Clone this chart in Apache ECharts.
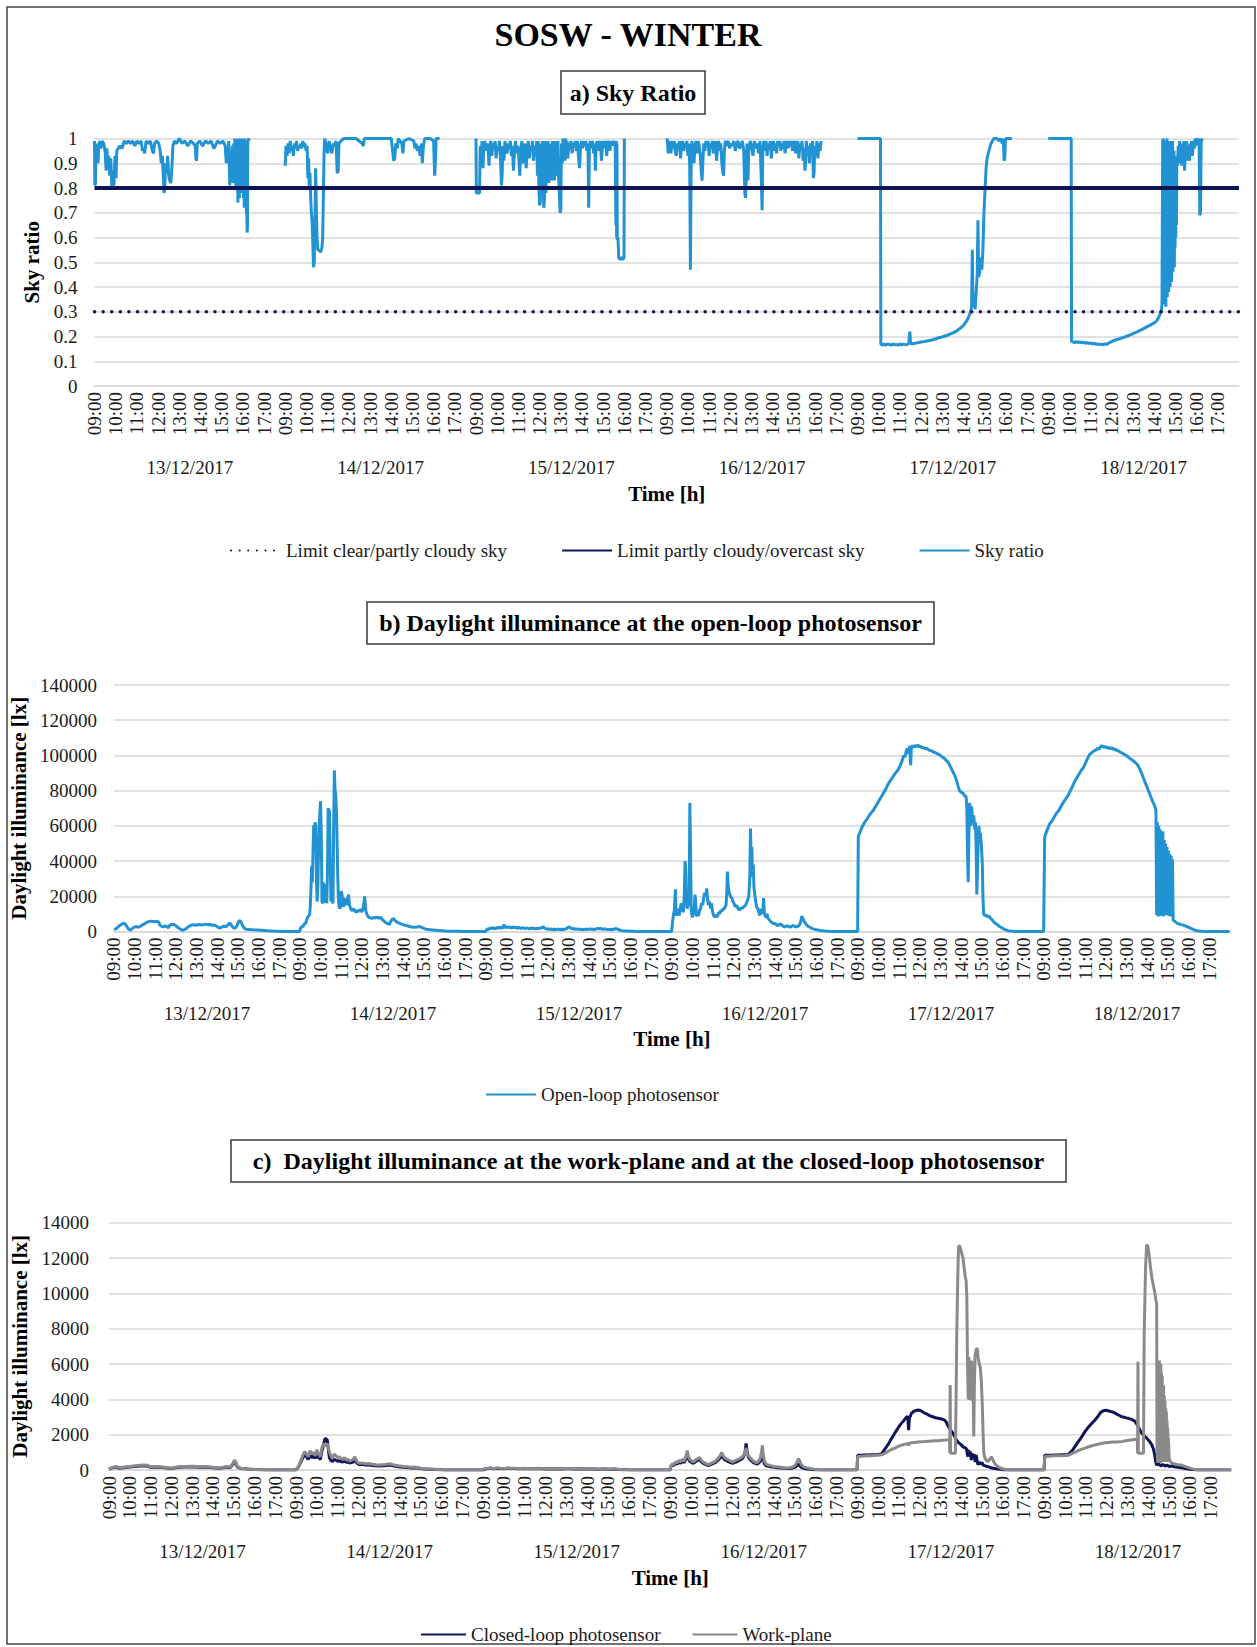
<!DOCTYPE html>
<html>
<head>
<meta charset="utf-8">
<title>SOSW - WINTER</title>
<script src="https://cdn.jsdelivr.net/npm/echarts@6/dist/echarts.min.js"></script>
<style>
  html, body { margin: 0; padding: 0; background: #ffffff; }
  #chart { width: 1257px; height: 1647px; }
</style>
</head>
<body>
<div id="chart"></div>
<script>
// ---- axis categories ----
const hourLabels = ['09:00', '10:00', '11:00', '12:00', '13:00', '14:00', '15:00', '16:00', '17:00'];
const dayLabels = ['13/12/2017', '14/12/2017', '15/12/2017', '16/12/2017', '17/12/2017', '18/12/2017'];

// ---- sky classification limits ----
const limitClear = 0.3;
const limitOvercast = 0.8;

// ---- sky ratio, one array per day: [minutes after 09:00, ratio] ----
const skyRatio13 = [[0,0.99],[1,0.81],[3,0.82],[4,0.97],[6,0.95],[8,0.98],[10,0.90],[12,0.97],[15,0.99],[18,0.96],[22,0.99],[26,0.98],[30,0.95],[33,0.87],[35,0.96],[38,0.88],[40,0.93],[43,0.85],[46,0.92],[49,0.81],[51,0.80],[53,0.87],[55,0.81],[58,0.93],[61,0.84],[63,0.95],[67,0.96],[72,0.97],[78,0.96],[84,0.99],[90,0.98],[96,0.99],[102,0.98],[108,0.99],[114,0.97],[120,0.99],[126,0.98],[132,0.99],[136,0.95],[139,0.96],[142,0.94],[146,0.99],[152,0.98],[158,0.99],[164,0.95],[167,0.94],[170,0.98],[176,0.99],[182,0.98],[186,0.95],[189,0.90],[192,0.93],[195,0.84],[197,0.78],[199,0.80],[201,0.90],[204,0.86],[207,0.93],[210,0.85],[213,0.83],[216,0.82],[219,0.88],[222,0.97],[226,0.99],[232,0.98],[240,1.0],[248,0.98],[256,0.99],[264,0.97],[272,0.99],[280,0.98],[285,0.97],[287,0.92],[289,0.91],[291,0.98],[298,0.99],[306,0.97],[314,0.99],[322,0.98],[330,0.99],[338,0.96],[342,0.97],[348,0.99],[356,0.98],[364,0.99],[370,0.97],[373,0.90],[375,0.96],[378,0.93],[380,0.99],[383,0.81],[385,0.95],[388,0.85],[390,0.97],[392,0.82],[394,0.98],[396,0.85],[397,1.0],[398,0.82],[399,0.99],[400,0.80],[401,1.0],[402,0.85],[403,0.98],[404,0.79],[405,1.0],[406,0.74],[407,0.99],[408,0.81],[409,1.0],[410,0.76],[411,0.98],[412,0.80],[413,1.0],[414,0.83],[415,0.99],[416,0.78],[417,1.0],[418,0.80],[419,0.97],[420,0.79],[421,1.0],[422,0.76],[423,0.98],[424,0.72],[425,1.0],[426,0.80],[427,0.99],[428,0.75],[429,0.78],[430,0.70],[431,0.73],[432,0.62],[433,0.64],[434,0.99],[436,1.0],[438,0.99]];
const skyRatio14 = [[0,0.89],[2,0.97],[5,0.93],[8,0.98],[11,0.94],[14,0.99],[17,0.95],[20,0.97],[23,0.93],[26,0.98],[29,0.96],[32,0.99],[35,0.95],[38,0.97],[41,0.96],[44,0.98],[47,0.96],[50,0.99],[53,0.97],[56,0.98],[59,0.95],[62,0.97],[64,0.84],[66,0.92],[68,0.80],[70,0.86],[72,0.76],[74,0.70],[76,0.66],[78,0.58],[80,0.48],[82,0.50],[84,0.68],[86,0.88],[88,0.72],[90,0.60],[92,0.55],[96,0.55],[100,0.54],[104,0.56],[106,0.60],[108,0.78],[110,0.95],[112,1.0],[116,0.97],[120,0.94],[124,0.99],[128,0.96],[132,0.94],[136,0.98],[140,0.97],[144,0.99],[147,0.86],[150,0.87],[152,0.98],[158,0.99],[166,1.0],[180,1.0],[200,1.0],[218,0.98],[221,0.97],[224,1.0],[250,1.0],[280,1.0],[300,1.0],[304,0.95],[307,0.91],[310,0.92],[313,0.98],[317,0.96],[320,1.0],[330,0.98],[333,0.94],[336,0.99],[350,1.0],[364,0.99],[367,0.96],[370,0.98],[374,0.95],[378,0.97],[382,0.93],[386,0.98],[388,0.90],[391,0.97],[395,1.0],[410,1.0],[420,0.99],[423,0.85],[425,0.90],[427,1.0],[437,1.0]];
const skyRatio15 = [[0,1.0],[1,0.78],[5,0.78],[10,0.78],[12,0.97],[15,0.93],[17,0.99],[20,0.88],[22,0.97],[25,0.99],[28,0.95],[31,0.98],[34,0.96],[37,0.89],[39,0.97],[42,0.99],[45,0.93],[48,0.98],[51,0.96],[54,0.99],[57,0.92],[60,0.97],[63,0.95],[66,0.99],[69,0.93],[72,0.81],[74,0.85],[76,0.97],[79,0.91],[82,0.99],[85,0.95],[88,0.94],[91,0.98],[94,0.96],[97,0.99],[100,0.93],[103,0.97],[106,0.87],[109,0.95],[112,0.99],[115,0.94],[118,0.97],[121,0.93],[124,0.85],[127,0.96],[130,0.99],[133,0.90],[136,0.94],[139,0.98],[142,0.88],[145,0.96],[148,0.99],[151,0.92],[154,0.97],[157,0.95],[160,0.99],[163,0.91],[166,0.97],[169,0.94],[172,0.99],[174,0.85],[176,0.99],[178,0.80],[180,0.73],[182,0.74],[184,0.98],[186,0.83],[188,0.99],[190,0.80],[192,0.72],[194,0.76],[196,0.99],[198,0.78],[200,0.96],[202,0.84],[204,0.99],[206,0.82],[208,0.98],[210,0.83],[212,0.97],[214,0.83],[216,0.99],[218,0.84],[220,0.96],[222,0.83],[224,0.99],[226,0.85],[228,0.97],[230,0.88],[232,0.99],[234,0.84],[236,0.78],[238,0.70],[240,0.71],[242,0.98],[244,0.90],[246,1.0],[248,0.93],[250,0.98],[252,0.91],[254,1.0],[256,0.95],[258,0.99],[260,0.92],[263,0.98],[266,0.96],[269,0.99],[272,0.94],[275,0.98],[278,0.97],[281,0.99],[284,0.95],[287,0.99],[290,0.93],[293,0.88],[296,0.97],[299,0.99],[302,0.96],[305,0.99],[308,0.97],[311,0.99],[314,0.95],[317,0.98],[319,0.72],[321,0.97],[324,0.99],[327,0.96],[330,0.99],[333,0.94],[336,0.98],[338,0.87],[340,0.97],[343,0.99],[346,0.95],[349,0.98],[352,0.99],[355,0.91],[358,0.97],[361,0.99],[364,0.96],[367,0.99],[370,0.93],[373,0.98],[376,0.99],[379,0.95],[382,0.99],[385,0.97],[388,0.99],[391,0.98],[394,0.99],[396,0.65],[397,0.99],[398,0.60],[399,0.98],[400,0.59],[402,0.60],[404,0.52],[408,0.51],[412,0.52],[416,0.51],[419,0.52],[420,1.0]];
const skyRatio16 = [[0,1.0],[2,0.99],[4,0.94],[6,0.99],[8,0.96],[10,0.98],[12,0.94],[15,0.99],[18,0.96],[21,0.99],[24,0.95],[27,0.93],[30,0.98],[33,0.96],[36,0.99],[39,0.92],[42,0.97],[45,0.99],[48,0.95],[51,0.98],[54,0.96],[57,0.99],[60,0.93],[63,0.98],[65,0.89],[67,0.47],[69,0.88],[71,0.99],[74,0.96],[77,0.90],[80,0.97],[83,0.99],[86,0.94],[89,0.99],[92,0.97],[95,0.93],[98,0.86],[100,0.83],[102,0.90],[105,0.98],[108,0.95],[111,0.99],[114,0.97],[117,0.99],[120,0.93],[123,0.98],[126,0.96],[129,0.99],[132,0.94],[135,0.97],[138,0.99],[141,0.91],[144,0.97],[147,0.99],[150,0.95],[153,0.98],[156,0.90],[159,0.86],[161,0.85],[163,0.95],[166,0.99],[170,0.97],[174,0.99],[178,0.96],[182,0.98],[186,0.97],[190,0.99],[194,0.95],[198,0.98],[202,0.99],[206,0.96],[210,0.97],[214,0.99],[218,0.95],[221,0.78],[223,0.76],[225,0.84],[227,0.98],[230,0.83],[232,0.95],[236,0.99],[240,0.97],[244,0.93],[248,0.99],[252,0.96],[256,0.98],[260,0.94],[264,0.99],[268,0.82],[270,0.71],[272,0.96],[275,0.99],[278,0.95],[281,0.99],[284,0.93],[287,0.98],[290,0.96],[293,0.99],[296,0.92],[299,0.97],[302,0.99],[305,0.95],[308,0.98],[311,0.94],[314,0.99],[317,0.97],[320,0.99],[323,0.95],[326,0.98],[329,0.96],[332,0.99],[335,0.94],[338,0.98],[341,0.99],[344,0.96],[347,0.99],[350,0.97],[353,0.99],[356,0.95],[359,0.98],[362,0.99],[365,0.94],[368,0.97],[371,0.99],[374,0.92],[377,0.98],[380,0.95],[383,0.99],[386,0.91],[389,0.96],[391,0.87],[393,0.90],[395,0.99],[398,0.93],[401,0.97],[404,0.90],[407,0.98],[410,0.94],[413,0.99],[415,0.84],[417,0.86],[419,0.97],[422,0.93],[425,0.99],[428,0.92],[431,0.98],[434,0.95],[437,0.99]];
const skyRatio17 = [[0,1.0],[30,1.0],[65,1.0],[66,0.17],[70,0.165],[75,0.17],[80,0.165],[85,0.17],[90,0.168],[95,0.165],[100,0.17],[105,0.166],[110,0.168],[115,0.165],[120,0.17],[125,0.166],[130,0.169],[135,0.167],[140,0.168],[145,0.17],[148,0.22],[150,0.18],[152,0.17],[160,0.172],[170,0.175],[180,0.178],[190,0.18],[200,0.183],[210,0.186],[220,0.19],[230,0.195],[240,0.198],[250,0.203],[260,0.208],[270,0.215],[280,0.222],[290,0.232],[300,0.245],[305,0.255],[310,0.265],[315,0.28],[320,0.30],[323,0.32],[325,0.55],[327,0.33],[330,0.34],[333,0.31],[336,0.38],[339,0.45],[341,0.67],[343,0.44],[346,0.46],[349,0.52],[352,0.47],[355,0.55],[358,0.70],[361,0.79],[364,0.88],[367,0.92],[370,0.94],[374,0.96],[378,0.98],[382,0.99],[386,1.0],[395,1.0],[400,0.99],[405,1.0],[410,0.98],[413,1.0],[415,0.91],[417,0.92],[419,1.0],[428,1.0],[437,1.0]];
const skyRatio18 = [[0,1.0],[33,1.0],[65,1.0],[66,0.18],[70,0.178],[75,0.175],[80,0.18],[85,0.176],[90,0.178],[95,0.174],[100,0.177],[105,0.173],[110,0.175],[115,0.172],[120,0.174],[125,0.17],[130,0.172],[135,0.168],[140,0.17],[145,0.167],[150,0.169],[155,0.166],[160,0.17],[165,0.168],[170,0.173],[175,0.176],[180,0.18],[185,0.183],[190,0.186],[200,0.19],[210,0.195],[220,0.20],[230,0.205],[240,0.212],[250,0.218],[260,0.225],[270,0.232],[280,0.24],[290,0.247],[300,0.255],[306,0.262],[312,0.275],[316,0.29],[320,0.30],[322,0.33],[324,0.995],[325,0.40],[326,1.0],[327,0.35],[328,0.98],[329,0.33],[330,0.92],[331,0.37],[332,0.99],[333,0.32],[334,0.90],[335,0.40],[336,1.0],[337,0.36],[338,0.88],[339,0.42],[340,0.97],[341,0.38],[342,0.85],[343,0.45],[344,0.99],[345,0.40],[346,0.88],[347,0.48],[348,0.95],[349,0.42],[350,0.86],[351,0.50],[352,0.99],[353,0.46],[354,0.87],[355,0.52],[356,0.95],[357,0.48],[358,0.84],[359,0.56],[360,0.90],[361,0.60],[362,0.88],[363,0.65],[364,0.93],[366,0.89],[368,0.97],[370,0.90],[372,0.99],[374,0.92],[376,0.96],[378,0.89],[380,0.98],[382,0.91],[384,0.99],[386,0.87],[388,0.95],[390,0.93],[392,0.99],[394,0.91],[396,0.97],[398,0.94],[400,0.91],[402,0.98],[404,0.95],[406,0.99],[408,0.93],[410,0.97],[412,0.99],[414,0.96],[416,1.0],[418,0.97],[420,1.0],[424,0.99],[427,1.0],[429,0.69],[431,0.70],[433,0.99],[437,1.0]];

// ---- open-loop photosensor illuminance [lx], one array per day ----
const openLoop13 = [[0,1200],[6,1500],[12,2600],[18,3600],[24,4300],[30,4700],[34,3900],[38,2800],[42,1400],[48,700],[53,1600],[59,2500],[65,2800],[71,2400],[77,3000],[83,3800],[89,4300],[95,5200],[101,5600],[107,5900],[113,5700],[119,5500],[125,5800],[130,5400],[134,3500],[138,2900],[144,2700],[150,3200],[154,2700],[158,2200],[162,3500],[166,4000],[170,3800],[174,4100],[178,3600],[184,2500],[190,1700],[196,1100],[201,700],[207,1300],[213,2200],[219,3100],[225,3600],[231,3900],[237,3500],[243,3800],[249,4000],[255,3700],[261,3900],[267,4200],[273,3800],[279,4000],[285,3500],[291,3700],[297,3200],[303,2300],[307,1900],[313,2500],[319,3000],[325,2600],[331,3800],[337,4800],[341,3600],[345,2500],[350,1900],[354,2300],[358,3600],[362,5600],[366,6300],[370,5000],[374,3200],[378,2000],[384,1300],[392,1200],[402,1000],[415,850],[430,650],[445,450],[460,280],[475,130],[484,40],[495,0],[539,0]];
const openLoop14 = [[0,0],[1,1500],[5,2800],[9,2700],[13,4400],[17,4700],[21,7600],[25,8800],[28,9400],[30,14000],[32,24000],[34,37000],[36,28000],[38,45000],[40,60500],[42,58000],[44,62000],[46,60000],[48,30000],[50,17000],[52,25000],[54,45000],[56,60000],[58,68000],[60,74000],[62,55000],[64,17000],[66,16000],[68,28000],[70,18000],[72,16500],[74,27000],[76,18000],[78,16000],[80,35000],[82,70000],[84,69000],[86,68000],[88,40000],[90,17000],[92,19000],[94,17000],[96,16000],[98,60000],[100,91500],[102,80000],[104,78000],[106,69000],[108,50000],[110,30000],[112,17000],[114,14000],[117,13000],[120,23000],[123,20000],[126,14000],[129,16000],[132,19000],[135,15000],[138,17000],[141,21000],[144,15000],[148,12500],[152,12000],[156,13000],[160,11500],[164,11000],[168,12000],[172,11500],[176,12500],[180,11000],[184,14000],[188,20000],[191,12000],[195,9500],[200,8000],[205,7700],[210,7500],[215,8000],[220,7700],[225,8200],[230,7500],[235,8000],[240,6600],[245,5700],[250,5000],[255,4400],[260,4000],[263,5500],[267,6800],[271,7300],[275,6500],[280,5600],[285,5000],[290,4600],[295,4200],[300,3900],[308,3400],[316,3000],[324,2600],[332,2400],[340,2600],[346,2800],[352,2500],[360,1800],[366,1300],[375,1100],[385,900],[395,700],[405,500],[420,350],[440,200],[462,80],[470,0],[539,0]];
const openLoop15 = [[0,300],[4,1500],[8,1200],[12,2000],[16,1600],[20,2300],[24,1400],[28,2100],[32,1800],[36,2500],[40,1900],[44,2300],[48,2000],[51,3200],[53,3900],[55,2600],[58,2200],[62,2700],[66,2300],[70,2500],[74,2000],[78,2600],[82,2200],[86,2400],[90,1900],[94,2300],[98,2100],[102,1800],[106,2200],[110,1900],[114,1700],[118,2100],[122,1800],[126,1600],[130,2000],[134,1700],[138,1900],[142,1500],[146,1800],[150,1600],[154,2000],[158,1800],[162,2100],[166,2800],[170,1900],[174,1600],[178,1300],[182,1500],[186,1200],[190,1400],[194,1100],[198,1300],[202,1000],[206,1200],[210,1400],[214,1100],[218,1300],[222,1000],[226,1200],[230,1400],[234,1600],[238,2300],[242,2700],[246,2000],[250,1500],[254,1700],[258,1300],[262,1500],[266,1200],[270,1400],[274,1100],[278,1300],[282,1000],[286,1200],[290,1400],[294,1100],[298,1300],[302,1500],[306,1200],[310,1400],[314,1100],[318,1300],[322,1600],[326,1800],[330,1500],[334,1700],[338,1400],[342,1200],[346,1500],[350,1300],[354,1100],[358,1200],[362,1000],[366,1300],[370,1100],[374,1500],[378,1700],[382,1300],[386,1000],[390,700],[395,500],[400,350],[410,250],[420,150],[430,80],[440,30],[450,0],[539,0]];
const openLoop16 = [[0,300],[2,6000],[4,9000],[7,12000],[10,24000],[12,9000],[15,11000],[18,13000],[21,9000],[24,13000],[27,16000],[30,12500],[33,11000],[36,21000],[38,40000],[40,35000],[42,18000],[44,13000],[47,15000],[50,20000],[52,73000],[54,45000],[56,12000],[59,8000],[62,10000],[65,14000],[67,21000],[69,16000],[71,8500],[74,10000],[77,9000],[80,12000],[83,13000],[86,16000],[89,15000],[92,19000],[95,22000],[98,20000],[101,24500],[103,19000],[106,15000],[109,17000],[112,13000],[115,16000],[118,11000],[121,9000],[124,8200],[127,9500],[130,8300],[133,9000],[136,11000],[139,10000],[142,12000],[145,11500],[148,13000],[151,12500],[154,14000],[157,15000],[159,21000],[161,34000],[163,27000],[165,23000],[168,21000],[171,19500],[174,19000],[177,17000],[180,16000],[184,14000],[188,15000],[192,13000],[196,12000],[200,13500],[204,13000],[208,14000],[212,14500],[216,16000],[220,18000],[223,20000],[226,30000],[228,58500],[230,40000],[232,48000],[234,31000],[236,38000],[238,25000],[240,22000],[243,17000],[246,14000],[249,13000],[252,11000],[255,9000],[258,13000],[261,10000],[264,12000],[266,19000],[268,11000],[270,9000],[273,8000],[276,10000],[279,7500],[283,6500],[287,5600],[291,5000],[295,4300],[299,4700],[303,3800],[307,3300],[311,3900],[315,4300],[319,3600],[323,3000],[327,2600],[331,2900],[335,3300],[339,2800],[343,2500],[347,2900],[351,3500],[355,3000],[359,2600],[363,2800],[367,3100],[371,4000],[374,5800],[377,8800],[380,7500],[383,6000],[386,5000],[390,4000],[395,3000],[400,2400],[405,1900],[410,1500],[415,1200],[420,1000],[425,800],[430,600],[438,400],[446,250],[455,120],[466,30],[475,0],[539,0]];
const openLoop17 = [[0,0],[1,54000],[5,56000],[10,58500],[15,60500],[21,62500],[27,64000],[33,66000],[39,67500],[45,69000],[51,71000],[57,73000],[63,75000],[69,77000],[75,79000],[81,81000],[87,83500],[93,85500],[99,87000],[105,89000],[111,90500],[117,92000],[123,94500],[129,97500],[133,100000],[137,99000],[140,102500],[144,104000],[147,101000],[150,105500],[153,94500],[155,104500],[158,105500],[162,104500],[166,105800],[170,105000],[174,106000],[178,104800],[182,105200],[186,104200],[190,104600],[195,103800],[200,104000],[205,103200],[210,102800],[215,102500],[220,101800],[225,101500],[230,101000],[235,100500],[240,100000],[245,99000],[250,98500],[255,97500],[260,96500],[265,95000],[270,93000],[275,91000],[280,89000],[285,86500],[290,83000],[295,80000],[300,79000],[305,78500],[310,77000],[314,76500],[316,70000],[318,45000],[320,28000],[322,55000],[324,73000],[326,69000],[328,60000],[330,71000],[333,62000],[336,66000],[339,58000],[341,62000],[343,48000],[345,21000],[347,35000],[349,52000],[351,60000],[353,55000],[355,56000],[358,50000],[361,38000],[363,18000],[365,10000],[368,9000],[372,9200],[376,8500],[380,8800],[385,7500],[390,6500],[395,5200],[400,4500],[405,3800],[410,3000],[415,2400],[420,1800],[425,1200],[430,800],[436,500],[442,250],[450,100],[460,0],[539,0]];
const openLoop18 = [[0,0],[2,53500],[6,56000],[12,59000],[18,61500],[24,63000],[30,65000],[36,67000],[42,68500],[48,70500],[54,72500],[60,74500],[66,76000],[72,78000],[78,80500],[84,83000],[90,85500],[96,87500],[102,89500],[108,91500],[114,93000],[120,95500],[126,98000],[132,100500],[138,101500],[144,102500],[150,103000],[156,104000],[160,103500],[164,105000],[168,105600],[172,104500],[176,105200],[180,104400],[184,104800],[188,103900],[192,104500],[196,103600],[200,104200],[204,103200],[208,103400],[212,102800],[216,102600],[220,102000],[225,101500],[230,101000],[235,100300],[240,99800],[245,99000],[250,98200],[255,97500],[260,96800],[265,96000],[270,95000],[275,93500],[280,91500],[285,89000],[290,86500],[295,84000],[300,81500],[305,79000],[310,76500],[315,74000],[320,72000],[325,69000],[327,9500],[329,62000],[331,8500],[333,60000],[335,9000],[337,58000],[339,8800],[341,55000],[343,10000],[345,57000],[347,8700],[349,52000],[351,9500],[353,50000],[355,9200],[357,48000],[359,10500],[361,46000],[363,9000],[365,44000],[367,8500],[369,43000],[371,9000],[373,41000],[375,6500],[380,5800],[386,4700],[392,4300],[398,3900],[404,3600],[410,3200],[416,2700],[422,2200],[428,1700],[433,1200],[439,700],[445,400],[452,200],[460,80],[470,0],[539,0]];

// ---- closed-loop photosensor illuminance [lx], one array per day ----
const closedLoop13 = [[0,40],[10,130],[20,170],[30,100],[40,130],[60,170],[80,210],[100,240],[110,230],[120,150],[140,170],[160,130],[180,85],[200,150],[220,170],[240,180],[260,160],[280,170],[300,130],[320,100],[340,170],[350,130],[358,340],[362,480],[366,380],[370,170],[380,85],[400,50],[420,25],[440,8],[460,0],[539,0]];
const closedLoop14 = [[0,0],[5,120],[10,300],[15,520],[20,700],[25,900],[30,750],[35,600],[40,850],[45,700],[50,800],[55,650],[60,900],[65,700],[70,600],[75,1100],[80,1500],[84,1800],[87,1750],[90,1700],[93,1200],[96,700],[100,550],[105,480],[110,600],[115,550],[120,500],[125,520],[130,480],[135,450],[140,520],[145,430],[150,450],[155,400],[160,420],[165,450],[170,550],[175,400],[180,320],[185,300],[190,320],[200,280],[210,300],[220,260],[230,240],[240,220],[250,240],[260,260],[270,280],[280,240],[290,200],[300,170],[310,160],[320,140],[330,120],[340,130],[350,110],[360,80],[370,60],[385,45],[400,30],[420,8],[430,0],[539,0]];
const closedLoop15 = [[0,30],[10,75],[20,95],[30,70],[40,100],[50,85],[60,75],[70,95],[80,80],[90,85],[100,70],[110,75],[120,85],[130,70],[140,65],[150,75],[160,85],[170,70],[180,60],[190,70],[200,50],[210,60],[220,65],[230,55],[240,75],[250,70],[260,60],[270,50],[280,65],[290,55],[300,50],[310,60],[320,55],[330,45],[340,50],[350,60],[360,45],[370,40],[380,50],[390,35],[400,20],[415,8],[430,0],[539,0]];
const closedLoop16 = [[0,0],[2,200],[6,300],[10,250],[15,380],[20,330],[25,450],[30,380],[35,500],[40,420],[45,600],[49,850],[52,650],[56,500],[60,450],[65,380],[70,420],[75,500],[80,550],[85,600],[90,450],[95,380],[100,330],[105,300],[110,250],[115,300],[120,330],[125,380],[130,420],[135,500],[140,600],[145,700],[148,850],[152,700],[156,600],[160,550],[165,500],[170,450],[175,420],[180,380],[185,420],[190,450],[195,500],[200,550],[205,600],[210,700],[215,900],[219,1500],[222,1000],[226,700],[230,600],[235,500],[240,420],[245,380],[250,330],[255,400],[260,500],[264,750],[266,900],[268,600],[272,350],[276,250],[280,220],[290,180],[300,150],[310,130],[320,110],[330,100],[340,90],[350,100],[360,150],[366,250],[370,350],[374,250],[378,150],[385,100],[395,60],[405,40],[415,20],[425,8],[435,0],[539,0]];
const closedLoop17 = [[0,0],[1,830],[10,840],[20,850],[30,850],[40,860],[50,870],[60,880],[69,900],[75,1050],[80,1200],[88,1420],[95,1650],[100,1820],[108,2080],[115,2300],[120,2450],[127,2640],[135,2820],[140,2950],[144,3050],[146,2900],[148,2250],[150,2900],[156,3200],[162,3300],[168,3360],[175,3400],[182,3370],[188,3300],[194,3220],[200,3180],[206,3100],[213,3040],[220,3000],[226,2960],[233,2930],[240,2900],[246,2870],[252,2820],[257,2700],[262,2480],[268,2300],[276,2080],[281,1900],[286,1700],[292,1550],[300,1420],[306,1300],[312,1250],[315,1200],[317,950],[319,760],[321,1150],[323,900],[326,1050],[329,560],[331,950],[334,700],[337,900],[340,450],[343,850],[346,500],[348,300],[352,450],[356,350],[360,420],[363,280],[370,230],[377,190],[385,130],[396,90],[405,60],[415,40],[425,0],[539,0]];
const closedLoop18 = [[0,0],[1,830],[10,840],[20,840],[30,850],[40,850],[50,860],[60,870],[69,880],[75,1000],[82,1150],[88,1320],[95,1520],[102,1720],[110,1950],[117,2170],[125,2380],[135,2600],[146,2830],[155,3050],[162,3250],[170,3360],[178,3380],[186,3340],[194,3300],[202,3240],[210,3150],[218,3070],[223,3020],[230,2990],[236,2950],[242,2925],[250,2880],[256,2820],[262,2740],[268,2550],[274,2330],[281,2075],[287,1950],[293,1850],[300,1700],[306,1550],[310,1420],[314,1230],[318,900],[321,500],[324,283],[330,350],[336,230],[342,320],[348,220],[354,280],[360,200],[367,230],[375,180],[385,150],[396,120],[410,70],[425,30],[435,10],[444,0],[539,0]];

// ---- work-plane illuminance [lx], one array per day ----
const workPlane13 = [[0,50],[10,150],[20,200],[30,120],[40,150],[60,200],[80,250],[100,280],[110,270],[120,180],[140,200],[160,150],[180,100],[200,180],[220,200],[240,210],[260,190],[280,200],[300,150],[320,120],[340,200],[350,150],[358,400],[362,550],[366,450],[370,200],[380,100],[400,60],[420,30],[440,10],[460,0],[539,0]];
const workPlane14 = [[0,0],[5,150],[10,350],[15,600],[20,850],[25,1050],[30,900],[35,750],[40,1100],[45,900],[50,1000],[55,800],[60,1150],[65,900],[70,750],[75,1300],[80,1500],[85,1350],[90,1500],[95,1100],[100,800],[105,700],[110,900],[115,800],[120,700],[125,750],[130,650],[135,600],[140,700],[145,550],[150,600],[155,500],[160,550],[165,600],[170,750],[175,500],[180,400],[185,380],[190,400],[200,350],[210,370],[220,330],[230,300],[240,280],[250,300],[260,320],[270,350],[280,300],[290,260],[300,220],[310,200],[320,180],[330,150],[340,170],[350,140],[360,100],[370,80],[385,60],[400,40],[420,10],[430,0],[539,0]];
const workPlane15 = [[0,40],[10,90],[20,110],[30,80],[40,120],[50,100],[60,90],[70,110],[80,95],[90,100],[100,80],[110,90],[120,100],[130,85],[140,75],[150,90],[160,100],[170,80],[180,70],[190,80],[200,60],[210,70],[220,75],[230,65],[240,90],[250,80],[260,70],[270,60],[280,75],[290,65],[300,60],[310,70],[320,65],[330,55],[340,60],[350,70],[360,55],[370,50],[380,60],[390,40],[400,25],[415,10],[430,0],[539,0]];
const workPlane16 = [[0,0],[2,250],[6,350],[10,300],[15,450],[20,400],[25,550],[30,450],[35,600],[40,500],[45,750],[49,1100],[52,800],[56,600],[60,550],[65,450],[70,500],[75,600],[80,650],[85,700],[90,550],[95,450],[100,400],[105,350],[110,300],[115,350],[120,400],[125,450],[130,500],[135,600],[140,700],[145,850],[148,1000],[152,850],[156,700],[160,650],[165,600],[170,550],[175,500],[180,450],[185,500],[190,550],[195,600],[200,650],[205,700],[210,800],[215,900],[219,1250],[222,900],[226,800],[230,700],[235,600],[240,500],[245,450],[250,400],[255,500],[260,650],[264,1100],[266,1400],[268,900],[272,500],[276,350],[280,300],[290,250],[300,200],[310,180],[320,150],[330,130],[340,120],[350,150],[360,250],[366,450],[370,650],[374,500],[378,300],[385,180],[395,120],[405,80],[415,50],[425,20],[435,0],[539,0]];
const workPlane17 = [[0,0],[1,760],[10,780],[20,790],[30,800],[40,810],[50,820],[60,830],[69,860],[75,900],[80,950],[88,1050],[95,1120],[100,1180],[108,1230],[115,1300],[120,1350],[127,1400],[135,1450],[140,1470],[146,1510],[148,1380],[150,1520],[156,1540],[165,1560],[175,1580],[185,1600],[195,1610],[205,1630],[215,1640],[225,1650],[235,1660],[245,1680],[255,1700],[262,1720],[266,1740],[267,950],[268,4810],[269,950],[275,950],[283,950],[285,4000],[287,7640],[290,11000],[292,12640],[295,12700],[298,12550],[302,12200],[305,12000],[308,11500],[311,11000],[314,10700],[316,9800],[318,6000],[320,4000],[322,6400],[324,3960],[326,5800],[328,4200],[330,6200],[332,3900],[334,5500],[336,1900],[338,5000],[340,6500],[343,6800],[346,6900],[349,6300],[352,6000],[355,5800],[358,5000],[361,3500],[363,2000],[365,1000],[367,750],[372,550],[377,470],[382,600],[387,750],[392,550],[397,350],[405,200],[415,100],[425,40],[435,0],[539,0]];
const workPlane18 = [[0,0],[1,760],[10,780],[20,790],[30,800],[40,805],[50,810],[60,820],[69,830],[75,880],[82,950],[90,1030],[98,1100],[106,1170],[112,1210],[117,1240],[125,1300],[135,1360],[146,1420],[155,1460],[165,1500],[175,1540],[185,1560],[195,1580],[205,1590],[215,1600],[225,1620],[235,1650],[245,1680],[255,1710],[262,1740],[268,1750],[269,950],[270,6130],[271,950],[278,950],[286,950],[288,7740],[292,11500],[295,12750],[298,12700],[302,12200],[306,11500],[310,10900],[315,10400],[319,10000],[322,9600],[324,9400],[325,1200],[327,400],[328,4500],[329,600],[330,5800],[331,500],[332,6200],[333,700],[334,5000],[335,400],[336,6000],[337,800],[338,5500],[339,500],[340,5300],[341,600],[342,4600],[343,450],[344,4800],[345,700],[346,4200],[347,500],[348,3900],[349,600],[350,3500],[351,450],[352,3300],[353,550],[354,2800],[355,450],[356,2400],[357,500],[358,1800],[360,700],[363,500],[367,400],[375,350],[385,300],[396,280],[410,180],[425,80],[435,30],[444,0],[539,0]];

// ---- styling ----
// family names left unquoted so the generated style attribute stays valid
const FONT = 'Liberation Serif, Times New Roman, serif';
const BLUE = '#2193d3';
const NAVY = '#0e1457';
const GREY = '#8a8a8a';
const GRID_GREY = '#d9d9d9';
const TEXT = '#1a1a1a';
const HOURS_PER_DAY = hourLabels.length;   // each day spans 09:00 - 18:00

// Days are laid side by side: x = day index * 9 h + hours after 09:00.
// With breakAtDayEnd the line is interrupted between days.
function joinDays(days, breakAtDayEnd) {
  const out = [];
  days.forEach((pts, d) => {
    pts.forEach(([m, v]) => out.push([d * HOURS_PER_DAY + m / 60, v]));
    if (breakAtDayEnd) out.push([d * HOURS_PER_DAY + 8.99, '-']);
  });
  return out;
}

const skyRatioXY = joinDays([skyRatio13, skyRatio14, skyRatio15, skyRatio16, skyRatio17, skyRatio18], true);
const openLoopXY = joinDays([openLoop13, openLoop14, openLoop15, openLoop16, openLoop17, openLoop18], false);
const closedLoopXY = joinDays([closedLoop13, closedLoop14, closedLoop15, closedLoop16, closedLoop17, closedLoop18], false);
const workPlaneXY = joinDays([workPlane13, workPlane14, workPlane15, workPlane16, workPlane17, workPlane18], false);
const spanEnd = dayLabels.length * HOURS_PER_DAY;

const grids = [
  { left: 94.5, top: 138.5, width: 1144.5, height: 247.5 },
  { left: 110,  top: 685,   width: 1120,   height: 246.5 },
  { left: 109,  top: 1222.7, width: 1122.5, height: 247.3 }
];

function hourAxis(g) {
  return {
    type: 'value', gridIndex: g, position: 'bottom', min: 0, max: spanEnd, interval: 1,
    axisLine: { show: false }, axisTick: { show: false }, splitLine: { show: false },
    axisLabel: {
      rotate: 90, margin: 6, fontSize: 19, color: TEXT, fontFamily: FONT, showMaxLabel: false,
      formatter: v => (v < spanEnd ? hourLabels[Math.round(v) % HOURS_PER_DAY] : '')
    }
  };
}
function dayAxis(g, tickLen) {
  return {
    type: 'category', gridIndex: g, position: 'bottom', data: dayLabels,
    axisLine: { lineStyle: { color: GRID_GREY, width: 1.5 } },
    axisTick: { length: tickLen, lineStyle: { color: GRID_GREY, width: 1.5 } },
    axisLabel: { margin: 72, fontSize: 19, color: TEXT, fontFamily: FONT },
    name: 'Time [h]', nameLocation: 'middle', nameGap: 97,
    nameTextStyle: { fontSize: 21, fontWeight: 'bold', color: '#000', fontFamily: FONT }
  };
}
function valueAxis(g, max, interval, name, nameGap, labelMargin) {
  return {
    type: 'value', gridIndex: g, min: 0, max: max, interval: interval,
    axisLine: { show: false }, axisTick: { show: false },
    splitLine: { lineStyle: { color: GRID_GREY, width: 1.5 } },
    axisLabel: { fontSize: 19, color: TEXT, fontFamily: FONT, margin: labelMargin, formatter: v => String(v) },
    name: name, nameLocation: 'middle', nameGap: nameGap,
    nameTextStyle: { fontSize: 21, fontWeight: 'bold', color: '#000', fontFamily: FONT }
  };
}
function boxTitle(x, y, w, h, text) {
  return [
    { type: 'rect', shape: { x: x, y: y, width: w, height: h }, style: { fill: '#fff', stroke: '#3a3a3a', lineWidth: 1.5 } },
    { type: 'text', x: x + w / 2, y: y + h / 2,
      style: { text: text, fontFamily: FONT, fontSize: 24, fontWeight: 'bold', fill: '#000', align: 'center', verticalAlign: 'middle' } }
  ];
}
const legendText = { fontSize: 19, color: TEXT, fontFamily: FONT };
const legendMarkerHidden = { opacity: 0 };

const chart = echarts.init(document.getElementById('chart'), null, { renderer: 'svg', width: 1257, height: 1647 });
chart.setOption({
  animation: false,
  backgroundColor: '#ffffff',
  textStyle: { fontFamily: FONT },
  grid: grids,
  xAxis: [hourAxis(0), dayAxis(0, 95), hourAxis(1), dayAxis(1, 92), hourAxis(2), dayAxis(2, 92)],
  yAxis: [
    valueAxis(0, 1, 0.1, 'Sky ratio', 50, 17),
    valueAxis(1, 140000, 20000, 'Daylight illuminance [lx]', 81, 17),
    valueAxis(2, 14000, 2000, 'Daylight illuminance [lx]', 74, 20)
  ],
  legend: [
    { top: 536, left: 225, itemWidth: 50, itemHeight: 14, itemGap: 54, textStyle: legendText,
      itemStyle: legendMarkerHidden,
      data: ['Limit clear/partly cloudy sky', 'Limit partly cloudy/overcast sky', 'Sky ratio'] },
    { top: 1080, left: 480, itemWidth: 50, itemHeight: 14, textStyle: legendText,
      itemStyle: legendMarkerHidden,
      data: ['Open-loop photosensor'] },
    { top: 1620, left: 415, itemWidth: 45, itemHeight: 14, itemGap: 31, textStyle: legendText,
      itemStyle: legendMarkerHidden,
      data: ['Closed-loop photosensor', 'Work-plane'] }
  ],
  series: [
    { name: 'Sky ratio', type: 'line', xAxisIndex: 0, yAxisIndex: 0, data: skyRatioXY, symbol: 'none',
      lineStyle: { width: 3, color: BLUE }, itemStyle: { color: BLUE }, z: 2 },
    { name: 'Limit clear/partly cloudy sky', type: 'line', xAxisIndex: 0, yAxisIndex: 0,
      data: [[0, limitClear], [spanEnd, limitClear]], symbol: 'none',
      lineStyle: { width: 3.4, color: NAVY, type: [0.1, 8.5], cap: 'round' }, itemStyle: { color: NAVY }, z: 3 },
    { name: 'Limit partly cloudy/overcast sky', type: 'line', xAxisIndex: 0, yAxisIndex: 0,
      data: [[0, limitOvercast], [spanEnd, limitOvercast]], symbol: 'none',
      lineStyle: { width: 4, color: NAVY }, itemStyle: { color: NAVY }, z: 3 },
    { name: 'Open-loop photosensor', type: 'line', xAxisIndex: 2, yAxisIndex: 1, data: openLoopXY, symbol: 'none',
      lineStyle: { width: 3, color: BLUE }, itemStyle: { color: BLUE }, z: 2 },
    { name: 'Closed-loop photosensor', type: 'line', xAxisIndex: 4, yAxisIndex: 2, data: closedLoopXY, symbol: 'none',
      lineStyle: { width: 3, color: NAVY }, itemStyle: { color: NAVY }, z: 2 },
    { name: 'Work-plane', type: 'line', xAxisIndex: 4, yAxisIndex: 2, data: workPlaneXY, symbol: 'none',
      lineStyle: { width: 3, color: GREY }, itemStyle: { color: GREY }, z: 3 }
  ],
  graphic: [
    { type: 'rect', shape: { x: 7, y: 7, width: 1248, height: 1637 }, style: { fill: 'none', stroke: '#444', lineWidth: 1.5 }, silent: true },
    { type: 'text', x: 628, y: 34,
      style: { text: 'SOSW - WINTER', fontFamily: FONT, fontSize: 34, fontWeight: 'bold', fill: '#000', align: 'center', verticalAlign: 'middle' } },
    ...boxTitle(561, 71, 144, 43, 'a) Sky Ratio'),
    ...boxTitle(367, 602, 567, 42, 'b) Daylight illuminance at the open-loop photosensor'),
    ...boxTitle(231, 1140, 835, 42, 'c)  Daylight illuminance at the work-plane and at the closed-loop photosensor')
  ]
});
</script>
</body>
</html>
